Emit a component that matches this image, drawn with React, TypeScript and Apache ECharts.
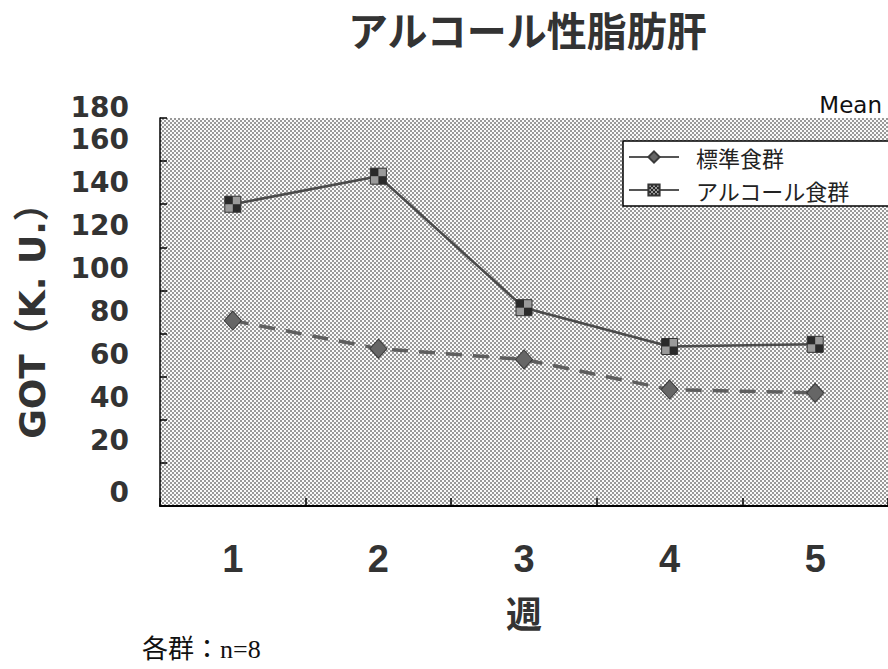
import React, { useEffect, useRef } from "react";
import * as echarts from "echarts";

// Weeks on the x axis and weekly mean GOT values for each diet group
const weeks = ["1", "2", "3", "4", "5"];
const standardDiet = [86, 73, 68, 54, 52.5];
const alcoholDiet = [140, 153, 92, 74, 75];
const seriesNames = ["標準食群", "アルコール食群"];

// Small halftone tile used as a fill
function halftone(dark: string, light: string): HTMLCanvasElement {
  const c = document.createElement("canvas");
  c.width = 4;
  c.height = 4;
  const g = c.getContext("2d")!;
  g.fillStyle = light;
  g.fillRect(0, 0, 4, 4);
  g.fillStyle = dark;
  g.fillRect(0, 0, 2, 2);
  g.fillRect(2, 2, 2, 2);
  return c;
}

export default function App() {
  const ref = useRef<HTMLDivElement>(null);

  useEffect(() => {
    if (!ref.current) return;
    const chart = echarts.init(ref.current, null, { renderer: "svg" });

    const bgTile = halftone("#999999", "#fafafa");
    const markTile = halftone("#2a2a2a", "#9a9a9a");

    const numFont = "DejaVu Sans";
    const jpFont = "'Noto Sans CJK JP', 'Noto Sans', sans-serif";
    const tickStyle = { fontFamily: numFont, fontSize: 28, fontWeight: "bold", color: "#333" };

    chart.setOption({
      animation: false,
      backgroundColor: "#ffffff",
      title: {
        text: "アルコール性脂肪肝",
        left: 343,
        top: 4,
        textStyle: {
          fontFamily: jpFont,
          fontSize: 40,
          fontWeight: "bold",
          color: "#333",
        },
      },
      legend: {
        orient: "vertical",
        left: 623,
        top: 141,
        padding: [2, 40, 2, 5],
        itemGap: 5,
        itemWidth: 50,
        itemHeight: 14,
        backgroundColor: "#ffffff",
        borderColor: "#000",
        borderWidth: 1.5,
        borderRadius: 0,
        lineStyle: { type: "solid", width: 2, color: "#555" },
        textStyle: {
          fontFamily: jpFont,
          fontSize: 22,
          lineHeight: 28,
          color: "#222",
          padding: [0, 0, 0, 12],
        },
        data: seriesNames,
      },
      grid: {
        left: 160,
        right: 0,
        top: 118,
        bottom: 163,
        show: true,
        backgroundColor: { image: bgTile, repeat: "repeat" },
        borderWidth: 0,
      },
      xAxis: {
        type: "category",
        data: weeks,
        boundaryGap: true,
        name: "週",
        nameLocation: "middle",
        nameGap: 88,
        nameTextStyle: {
          fontFamily: jpFont,
          fontSize: 36,
          fontWeight: "bold",
          color: "#333",
        },
        axisLine: { show: true, lineStyle: { color: "#000", width: 2 } },
        axisTick: { show: true, inside: true, length: 8, lineStyle: { color: "#000", width: 1.5 } },
        axisLabel: {
          margin: 34,
          fontFamily: "'Liberation Sans Narrow', 'Liberation Sans', sans-serif",
          fontSize: 38,
          fontWeight: "bold",
          color: "#333",
        },
      },
      yAxis: {
        type: "value",
        min: 0,
        max: 180,
        interval: 20,
        name: "GOT（K. U.）",
        nameLocation: "middle",
        nameRotate: 90,
        nameGap: 110,
        nameTextStyle: {
          fontFamily: "'DejaVu Sans', 'Noto Sans CJK JP', sans-serif",
          fontSize: 36,
          fontWeight: "bold",
          color: "#333",
        },
        splitLine: { show: false },
        axisLine: { show: true, lineStyle: { color: "#000", width: 1.5 } },
        axisTick: { show: true, inside: true, length: 7, lineStyle: { color: "#000", width: 1.5 } },
        axisLabel: {
          margin: 31,
          formatter: (v: number) =>
            v === 180 ? `{t|${v}}` : v === 0 ? `{z|${v}}` : `{n|${v}}`,
          rich: {
            t: { ...tickStyle, padding: [0, 0, 22, 0] },
            z: { ...tickStyle, padding: [0, 0, 28, 0] },
            n: { ...tickStyle, padding: [0, 0, 44, 0] },
          },
        },
      },
      series: [
        {
          name: seriesNames[0],
          type: "line",
          data: standardDiet,
          symbol: "diamond",
          symbolSize: [17, 19],
          lineStyle: { type: [16, 11], width: 3.5, color: "#5e5e5e" },
          itemStyle: { color: "#666", borderColor: "#3a3a3a", borderWidth: 1 },
          z: 3,
        },
        {
          name: seriesNames[1],
          type: "line",
          data: alcoholDiet,
          symbol: "rect",
          symbolSize: 16,
          lineStyle: { type: "solid", width: 2.5, color: "#4a4a4a" },
          itemStyle: { color: { image: markTile, repeat: "repeat" }, borderColor: "#333", borderWidth: 1 },
          z: 4,
        },
      ],
      graphic: [
        {
          type: "text",
          right: 6,
          top: 93,
          style: {
            text: "Mean",
            fontFamily: numFont,
            fontSize: 23,
            fill: "#111",
          },
        },
        {
          type: "text",
          left: 142,
          top: 636,
          style: {
            text: "各群：n=8",
            fontFamily: "'Liberation Serif', 'Noto Sans CJK JP', serif",
            fontSize: 26,
            fill: "#111",
          },
        },
      ],
    });

    return () => chart.dispose();
  }, []);

  return (
    <div
      ref={ref}
      style={{ position: "absolute", left: 0, top: 0, width: 888, height: 669 }}
    />
  );
}
